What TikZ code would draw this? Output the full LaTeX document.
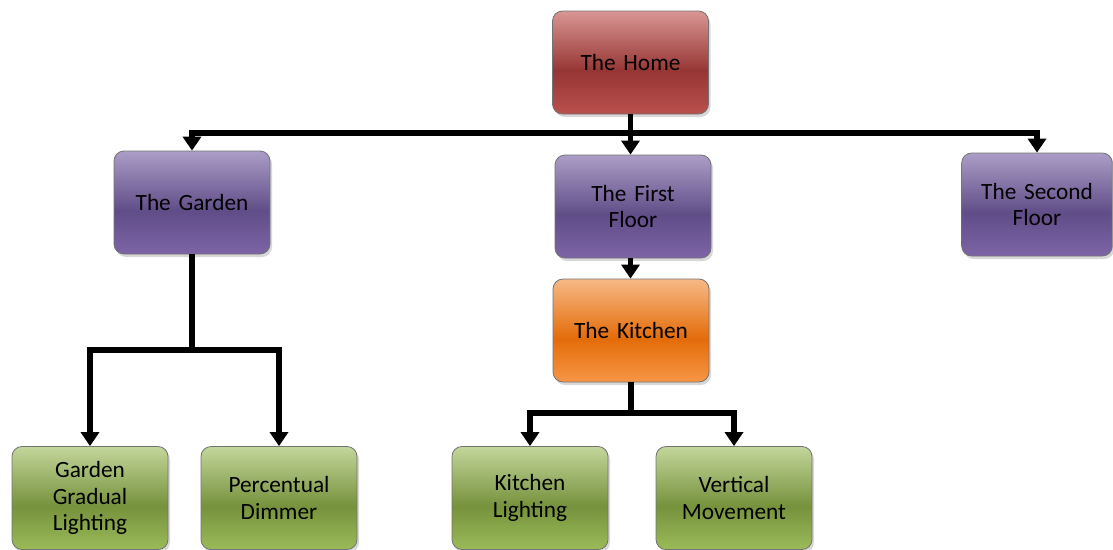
\documentclass[tikz,border=0pt]{standalone}
\usepackage{fontspec}
\setmainfont{Carlito}
\usetikzlibrary{arrows.meta,shadows}
\definecolor{redT}{HTML}{D99694}\definecolor{redM}{HTML}{963634}\definecolor{redB}{HTML}{B9504D}
\definecolor{purT}{HTML}{AB9DC6}\definecolor{purM}{HTML}{604D88}\definecolor{purB}{HTML}{7D64A6}
\definecolor{oraT}{HTML}{F7B986}\definecolor{oraM}{HTML}{E36C09}\definecolor{oraB}{HTML}{F79646}
\definecolor{grnT}{HTML}{C3D69B}\definecolor{grnM}{HTML}{76923C}\definecolor{grnB}{HTML}{9BBB59}
\pgfdeclareverticalshading{redshade}{100bp}{color(0bp)=(redB); color(25bp)=(redB); color(46bp)=(redM); color(75bp)=(redT); color(100bp)=(redT)}
\pgfdeclareverticalshading{purshade}{100bp}{color(0bp)=(purB); color(25bp)=(purB); color(46bp)=(purM); color(75bp)=(purT); color(100bp)=(purT)}
\pgfdeclareverticalshading{orashade}{100bp}{color(0bp)=(oraB); color(25bp)=(oraB); color(46bp)=(oraM); color(75bp)=(oraT); color(100bp)=(oraT)}
\pgfdeclareverticalshading{grnshade}{100bp}{color(0bp)=(grnB); color(25bp)=(grnB); color(46bp)=(grnM); color(75bp)=(grnT); color(100bp)=(grnT)}
\tikzset{
  box/.style={draw=black!55, line width=0.8pt, rounded corners=10pt, minimum width=156pt, minimum height=103pt,
    align=center, text width=144pt, font=\fontsize{23.3}{26.8}\selectfont,
    drop shadow={opacity=0.3, shadow xshift=2pt, shadow yshift=-3pt}},
  redbox/.style={box, shading=redshade},
  purbox/.style={box, shading=purshade},
  orabox/.style={box, shading=orashade},
  grnbox/.style={box, shading=grnshade},
  conn/.style={line width=5.5pt, line join=miter},
  arr/.style={conn, -{Triangle[width=18pt,length=14pt]}},
}
\begin{document}
\begin{tikzpicture}[x=1pt,y=-1pt]
\useasboundingbox (0,0) rectangle (1113,549);
\fill[white] (0,0) rectangle (1113,549);
\node[redbox] (home) at (630.5,62.5) {The Home};
\node[purbox] (garden) at (192,202.5) {The Garden};
\node[purbox] (ff) at (633,206.5) {The First\\Floor};
\node[purbox, minimum width=150pt] (sf) at (1037,204.5) {The Second\\Floor};
\node[orabox] (kit) at (631,330.5) {The Kitchen};
\node[grnbox] (ggl) at (90,498) {Garden\\Gradual\\Lighting};
\node[grnbox] (pd) at (279,498) {Percentual\\Dimmer};
\node[grnbox] (kl) at (530,498) {Kitchen\\Lighting};
\node[grnbox] (vm) at (734,498) {Vertical\\Movement};
\coordinate (bus) at (630.5,133);
\coordinate (gbus) at (192,350);
\coordinate (kbus) at (631,413);
\draw[arr] (home.south) -- (home.south |- ff.north);
\draw[arr] (bus) -| (garden.north);
\draw[arr] (bus) -| (sf.north);
\draw[arr] (home.south |- ff.south) -- (home.south |- kit.north);
\draw[conn] (garden.south) -- (gbus);
\draw[arr] (gbus) -| (ggl.north);
\draw[arr] (gbus) -| (pd.north);
\draw[conn] (kit.south) -- (kbus);
\draw[arr] (kbus) -| (kl.north);
\draw[arr] (kbus) -| (vm.north);
\end{tikzpicture}
\end{document}
